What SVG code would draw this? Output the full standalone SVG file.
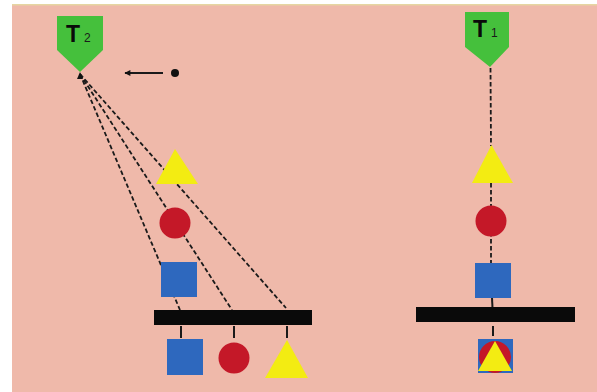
<svg xmlns="http://www.w3.org/2000/svg" width="597" height="392" viewBox="0 0 597 392">
<style>
.bg{fill:#EFB9AA}
.tag{fill:#45C03C}
.tri{fill:#F3EC12}
.circ{fill:#C41828}
.sq{fill:#2E68BE}
.bar{fill:#0A0A0A}
.dash{stroke:#1A1A1A;stroke-width:1.8;stroke-dasharray:4.5 2.5;fill:none}
.solid{stroke:#1A1A1A;stroke-width:2;fill:none}
.lbl{font-family:"Liberation Sans",Arial,sans-serif;font-weight:bold;fill:#0A0A0A}
.sub{font-family:"Liberation Sans",Arial,sans-serif;fill:#1A1A1A}
</style>
<defs>
<marker id="ah" viewBox="0 0 10 10" refX="9" refY="5" markerWidth="8" markerHeight="6" orient="auto" markerUnits="userSpaceOnUse">
<path d="M0,0 L10,5 L0,10 z" fill="#111"/>
</marker>
<clipPath id="sqclip"><rect x="478" y="339" width="35" height="34"/></clipPath>
</defs>
<rect x="0" y="0" width="597" height="392" fill="#FFFFFF"/>
<rect class="bg" x="12" y="5" width="585" height="387"/>
<rect x="12" y="4" width="585" height="1.5" fill="#E6D6A2"/>

<g id="connectors">
<line class="dash" x1="80" y1="74" x2="180" y2="310"/>
<line class="dash" x1="80" y1="74" x2="232" y2="310"/>
<line class="dash" x1="80" y1="74" x2="286" y2="308"/>
<path d="M80,72 L77,79 L83,79 z" fill="#111"/>
<line class="solid" x1="181" y1="326" x2="181" y2="338"/>
<line class="solid" x1="234" y1="326" x2="234" y2="338"/>
<line class="solid" x1="287" y1="326" x2="287" y2="338"/>
<line class="dash" x1="490.5" y1="68" x2="491" y2="146"/>
<line class="dash" x1="491" y1="183" x2="491" y2="263"/>
<line class="solid" x1="492" y1="298" x2="492.5" y2="308"/>
<line class="solid" x1="493" y1="326" x2="493" y2="336"/>
<line class="solid" x1="163" y1="73" x2="125" y2="73" marker-end="url(#ah)"/>
</g>

<g id="dot"><circle cx="175" cy="73" r="4" fill="#111"/></g>

<g id="T2">
<path class="tag" d="M57,16 L103,16 L103,50 L80,72 L57,50 z"/>
<text class="lbl" x="66" y="42" font-size="23">T</text>
<text class="sub" x="84" y="42" font-size="12">2</text>
</g>

<g id="T1">
<path class="tag" d="M465,12 L509,12 L509,47 L490,67 L465,47 z"/>
<text class="lbl" x="473" y="37" font-size="23">T</text>
<text class="sub" x="491" y="37" font-size="12">1</text>
</g>

<g id="left-triangle"><polygon class="tri" points="175,149 198,184 156,184"/></g>
<g id="left-circle"><circle class="circ" cx="175" cy="223" r="15.5"/></g>
<g id="left-square"><rect class="sq" x="161" y="262" width="36" height="35"/></g>
<g id="left-bar"><rect class="bar" x="154" y="310" width="158" height="15"/></g>
<g id="left-square-2"><rect class="sq" x="167" y="339" width="36" height="36"/></g>
<g id="left-circle-2"><circle class="circ" cx="234" cy="358" r="15.5"/></g>
<g id="left-triangle-2"><polygon class="tri" points="287,340 308,378 265,378"/></g>

<g id="right-triangle"><polygon class="tri" points="491.5,145 513,183 472,183"/></g>
<g id="right-circle"><circle class="circ" cx="491" cy="221" r="15.5"/></g>
<g id="right-square"><rect class="sq" x="475" y="263" width="36" height="35"/></g>
<g id="right-bar"><rect class="bar" x="416" y="307" width="159" height="15"/></g>
<g id="right-combined">
<rect class="sq" x="478" y="339" width="35" height="34"/>
<circle class="circ" cx="495" cy="357" r="16" clip-path="url(#sqclip)"/>
<polygon class="tri" points="495,341 512,371 478,371"/>
</g>
</svg>
